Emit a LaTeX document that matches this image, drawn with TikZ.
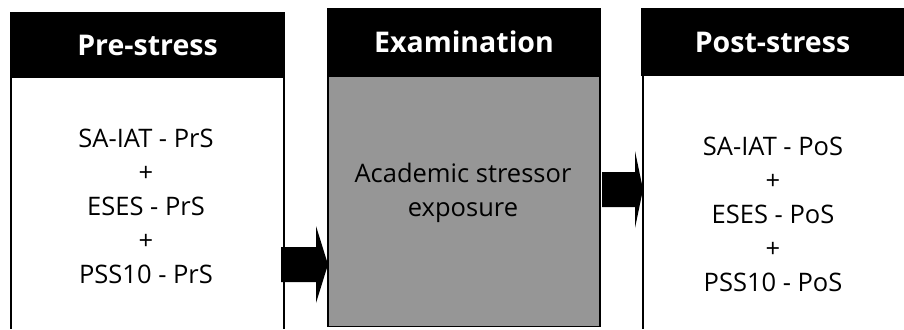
\documentclass[tikz,border=0pt]{standalone}
\usepackage{fontspec}
\setmainfont{Open Sans}
\definecolor{boxgrey}{RGB}{150,150,150}
\begin{document}
\begin{tikzpicture}[x=1pt,y=-1pt,
  hdr/.style={fill=black,draw=none,inner sep=0pt,text=white,font=\fontsize{28.5}{30}\selectfont\bfseries},
  bodytext/.style={align=center,inner sep=0pt,font=\fontsize{25.5}{34}\selectfont},
  border/.style={line width=1.6pt,draw=black},
  blockarrow/.style={fill=black,draw=none}]
\useasboundingbox (0,0) rectangle (904,329);
% left column
\node[hdr,minimum width=275pt,minimum height=66pt] (h1) at (147.5,45) {Pre-stress};
\draw[border] (11,78) -- (11,329);
\draw[border] (284,78) -- (284,329);
\node[bodytext] (t1) at (146,206) {SA-IAT - PrS\\+\\ESES - PrS\\+\\PSS10 - PrS};
% middle column
\node[hdr,minimum width=274pt,minimum height=68pt] (h2) at (464,42) {Examination};
\draw[border,fill=boxgrey] (327.8,76) rectangle (600,326.5);
\node[bodytext] (t2) at (463,193) {Academic stressor\\exposure};
% right column
\node[hdr,minimum width=263pt,minimum height=68pt] (h3) at (772.5,42) {Post-stress};
\draw[border] (643,76) -- (643,329);
\node[bodytext] (t3) at (773,214) {SA-IAT - PoS\\+\\ESES - PoS\\+\\PSS10 - PoS};
% block arrows
\fill[blockarrow] (281,247) -- (316,247) -- (316,226) -- (328,264.5) -- (316,303) -- (316,282) -- (281,282) -- cycle;
\fill[blockarrow] (602,172) -- (635,172) -- (635,151) -- (643,189.5) -- (635,228) -- (635,207) -- (602,207) -- cycle;
\end{tikzpicture}
\end{document}
